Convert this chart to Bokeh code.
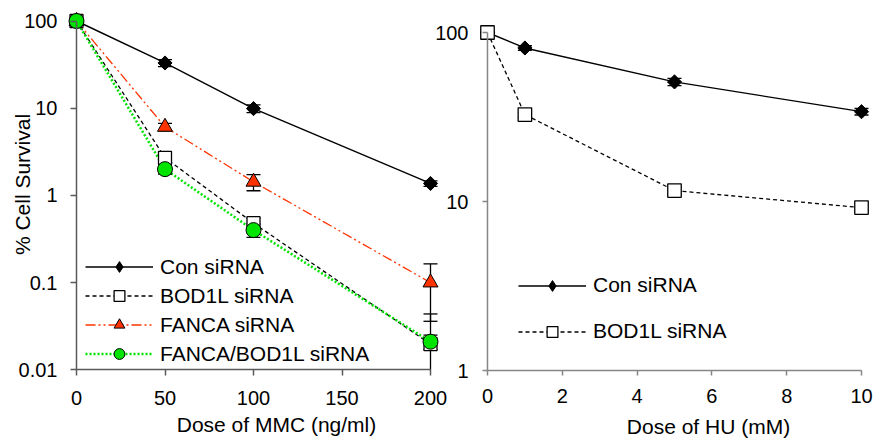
import math
from bokeh.plotting import figure
from bokeh.models import (Range1d, LogScale, LinearScale, LinearAxis, LogAxis, FixedTicker,
                          BasicTickFormatter, Legend, LegendItem, Label)
from bokeh.embed import file_html
from bokeh.resources import INLINE

# ---------------- data ----------------
mmc_dose = [0, 50, 100, 200]
mmc_con = [100, 33, 9.9, 1.37]
mmc_con_err = [0, 3, 1.0, 0.1]
mmc_bod1l = [100, 2.7, 0.48, 0.0197]
mmc_bod1l_err = [0, 0.35, 0.07, 0.024]
mmc_fanca = [100, 6.1, 1.43, 0.1]
mmc_fanca_err = [0, 0.6, 0.3, 0.064]
mmc_double = [100, 2.0, 0.40, 0.021]
mmc_double_err = [0, 0.25, 0.07, 0.004]

hu_dose = [0, 1, 5, 10]
hu_con = [100, 81, 51, 34]
hu_con_err = [0, 2.5, 2.5, 1.5]
hu_bod1l = [100, 32.7, 11.6, 9.2]
hu_bod1l_err = [0, 1.0, 0.6, 0.4]

mmc_ticks = [0, 50, 100, 150, 200]
hu_ticks = [0, 2, 4, 6, 8, 10]
surv_ticks_mmc = [0.01, 0.1, 1, 10, 100]
surv_labels_mmc = ["0.01", "0.1", "1", "10", "100"]
surv_ticks_hu = [1, 10, 100]
surv_labels_hu = ["1", "10", "100"]

series_labels_mmc = ["Con siRNA", "BOD1L siRNA", "FANCA siRNA", "FANCA/BOD1L siRNA"]
series_labels_hu = ["Con siRNA", "BOD1L siRNA"]
x_title_mmc = "Dose of MMC (ng/ml)"
x_title_hu = "Dose of HU (mM)"
y_title = "% Cell Survival"

# ---------------- layout: the frame fills the whole canvas ----------------
W, H = 880, 439
FONT = "Liberation Sans"


def lin_range(v0, p0, v1, p1):
    s = (p1 - p0) / (v1 - v0)
    return Range1d(v0 - p0 / s, v0 + (W - p0) / s)


def log_range(v0, p0, v1, p1):
    # p measured downward from canvas top
    l0, l1 = math.log10(v0), math.log10(v1)
    s = (p0 - p1) / (l1 - l0)
    return Range1d(10 ** (l0 - (H - p0) / s), 10 ** (l0 + p0 / s))


p = figure(width=W, height=H, output_backend="svg", toolbar_location=None,
           x_axis_location=None, y_axis_location=None, y_axis_type="log",
           x_range=lin_range(0, 76, 200, 430), y_range=log_range(0.01, 369.3, 100, 20.5),
           min_border_left=0, min_border_right=0, min_border_top=0, min_border_bottom=0)
p.y_scale = LogScale()
p.extra_x_ranges = {"hu": lin_range(0, 487, 10, 861)}
p.extra_y_ranges = {"hu": log_range(1, 370, 100, 32)}
p.extra_x_scales = {"hu": LinearScale()}
p.extra_y_scales = {"hu": LogScale()}
p.outline_line_color = None
p.background_fill_color = "white"
p.border_fill_color = "white"
p.grid.visible = False


def style_axis(ax, color, tick_out, standoff):
    ax.axis_line_color = color
    ax.axis_line_width = 1.5
    ax.major_tick_line_color = color
    ax.major_tick_line_width = 1.5
    ax.major_tick_out = tick_out
    ax.major_tick_in = 0
    ax.minor_tick_line_color = None
    ax.minor_tick_out = 0
    ax.minor_tick_in = 0
    ax.major_label_text_font = FONT
    ax.major_label_text_font_size = "20px"
    ax.major_label_text_color = "black"
    ax.major_label_standoff = standoff


ax_ly = LogAxis(ticker=FixedTicker(ticks=surv_ticks_mmc), formatter=BasicTickFormatter(),
                major_label_overrides=dict(zip(surv_ticks_mmc, surv_labels_mmc)),
                fixed_location=0, bounds=(surv_ticks_mmc[0], surv_ticks_mmc[-1]))
style_axis(ax_ly, "#5a5a5a", 6, 13)
p.add_layout(ax_ly, "left")

ax_lx = LinearAxis(ticker=FixedTicker(ticks=mmc_ticks), fixed_location=surv_ticks_mmc[0],
                   bounds=(mmc_ticks[0], mmc_ticks[-1]))
style_axis(ax_lx, "#5a5a5a", 6, 15)
p.add_layout(ax_lx, "below")

ax_ry = LogAxis(ticker=FixedTicker(ticks=surv_ticks_hu), formatter=BasicTickFormatter(),
                major_label_overrides=dict(zip(surv_ticks_hu, surv_labels_hu)),
                x_range_name="hu", y_range_name="hu",
                fixed_location=0, bounds=(surv_ticks_hu[0], surv_ticks_hu[-1]))
style_axis(ax_ry, "#868686", 5, 14)
p.add_layout(ax_ry, "left")

ax_rx = LinearAxis(ticker=FixedTicker(ticks=hu_ticks), x_range_name="hu", y_range_name="hu",
                   fixed_location=surv_ticks_hu[0], bounds=(hu_ticks[0], hu_ticks[-1]))
style_axis(ax_rx, "#868686", 5, 13)
p.add_layout(ax_rx, "below")

RED = "#ff3300"
GREEN = "#00e400"

CON_MARK = dict(marker="square", size=10, angle=math.pi / 4, fill_color="black",
                line_color="black", line_width=1)
CON_LEGEND_MARK = dict(marker="diamond", fill_color="black", line_color="black", line_width=1)

specs_mmc = [
    (mmc_con, mmc_con_err, dict(line_color="black", line_width=1.4), CON_MARK, CON_LEGEND_MARK),
    (mmc_bod1l, mmc_bod1l_err, dict(line_color="black", line_width=1.3, line_dash="4 3"),
     dict(marker="square", size=13, fill_color="white", line_color="black", line_width=1.3), None),
    (mmc_fanca, mmc_fanca_err, dict(line_color=RED, line_width=1.3, line_dash="10 3 2 3 2 3"),
     dict(marker="triangle", size=15, fill_color=RED, line_color="black", line_width=1), None),
    (mmc_double, mmc_double_err, dict(line_color=GREEN, line_width=2.5, line_dash="2 2"),
     dict(marker="circle", size=15, fill_color=GREEN, line_color="black", line_width=1), None),
]
specs_hu = [
    (hu_con, hu_con_err, dict(line_color="black", line_width=1.4), CON_MARK, CON_LEGEND_MARK),
    (hu_bod1l, hu_bod1l_err, dict(line_color="black", line_width=1.3, line_dash="4 3"),
     dict(marker="square", size=13.5, fill_color="white", line_color="black", line_width=1.3), None),
]

NAN = float("nan")


def draw(xs, specs, labels, rng, y_floor):
    kw = {} if rng is None else dict(x_range_name=rng, y_range_name=rng)
    lines, marks = [], []
    for ys, es, lst, mst, leg in specs:
        lines.append(p.line(xs, ys, **lst, **kw))
    for ys, es, lst, mst, leg in specs:
        hi = [y + e for y, e in zip(ys, es)]
        lo = [max(y - e, y_floor) for y, e in zip(ys, es)]
        p.segment(x0=xs, y0=lo, x1=xs, y1=hi, line_color="black", line_width=1.3, **kw)
        p.scatter(xs, hi, marker="dash", size=14, line_color="black", line_width=1.3, **kw)
        cx = [x for x, y, e in zip(xs, ys, es) if y - e > y_floor]
        cy = [y - e for y, e in zip(ys, es) if y - e > y_floor]
        p.scatter(cx, cy, marker="dash", size=14, line_color="black", line_width=1.3, **kw)
    for ys, es, lst, mst, leg in specs:
        r = p.scatter(xs, ys, **mst, **kw)
        if leg is not None:
            # legend-only sample with no drawable point (Bokeh draws legend markers unrotated)
            r = p.scatter(x=[NAN], y=[NAN], **leg, **kw)
        marks.append(r)
    return [LegendItem(label=l, renderers=[ln, mk]) for l, ln, mk in zip(labels, lines, marks)]


items_mmc = draw(mmc_dose, specs_mmc, series_labels_mmc, None, surv_ticks_mmc[0])
items_hu = draw(hu_dose, specs_hu, series_labels_hu, "hu", surv_ticks_hu[0])


def make_legend(items, loc, spacing):
    return Legend(items=items, location=loc, glyph_width=68, glyph_height=27, label_height=27,
                  label_standoff=7, spacing=spacing, padding=0, margin=0,
                  border_line_color=None, background_fill_alpha=0,
                  label_text_font=FONT, label_text_font_size="21px", label_text_color="black")


p.add_layout(make_legend(items_mmc, (85, H - 367.2), 2), "center")
p.add_layout(make_legend(items_hu, (518, H - 344.5), 19), "center")

for txt, sx, sy, ang in [(x_title_mmc, 276, 424, 0), (x_title_hu, 708, 426, 0),
                         (y_title, 22, 184, math.pi / 2)]:
    p.add_layout(Label(text=txt, x=sx, y=H - sy, x_units="screen", y_units="screen",
                       angle=ang, text_align="center", text_baseline="middle",
                       text_font=FONT, text_font_size="21px", text_color="black"))

open("out.html", "w").write(file_html(p, INLINE))
